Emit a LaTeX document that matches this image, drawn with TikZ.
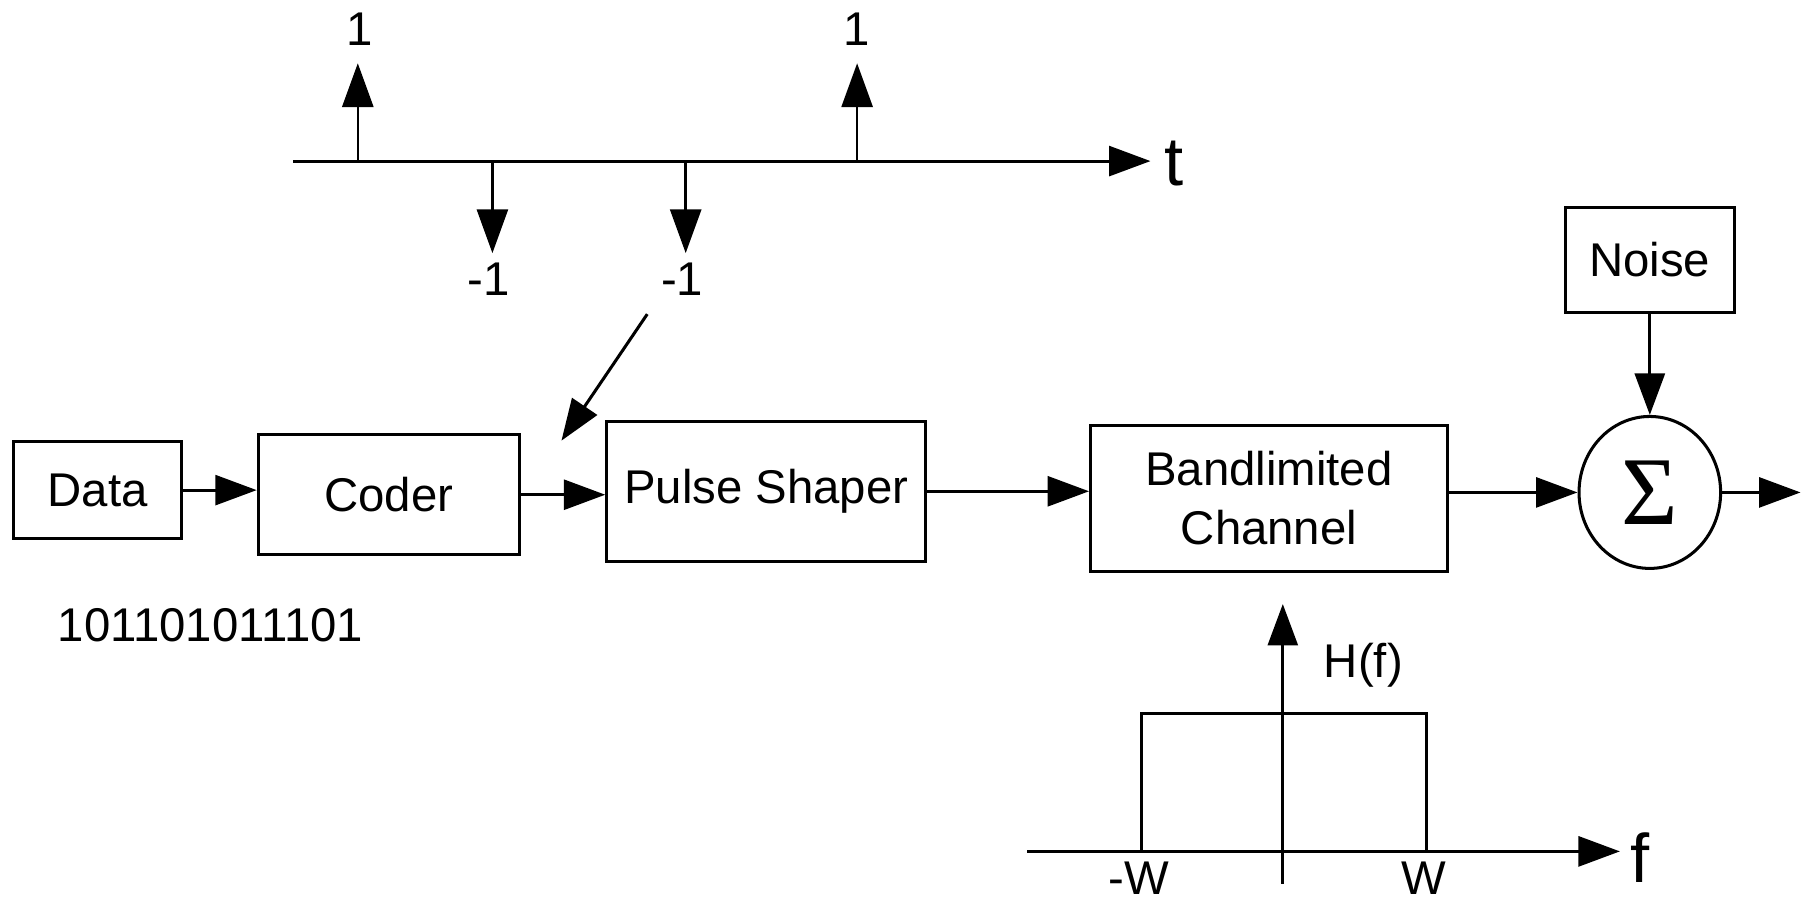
\documentclass[tikz,border=0pt]{standalone}
\usepackage{fontspec}
\setmainfont{Liberation Sans}
\newfontfamily\sigmafont{Liberation Serif}
\usetikzlibrary{arrows.meta, positioning, shapes.geometric}

\begin{document}
\begin{tikzpicture}[x=0.01cm, y=-0.01cm,
    box/.style={draw, line width=0.75pt, inner sep=0pt, align=center,
                font=\fontsize{11.7}{14.5}\selectfont},
    lbl/.style={inner sep=1pt, font=\fontsize{11.7}{14}\selectfont},
    big/.style={inner sep=1pt, font=\fontsize{17}{20}\selectfont},
    arrow/.style={-{Triangle[length=0.36cm, width=0.26cm]}, line width=0.75pt},
    stem/.style={-{Triangle[length=0.38cm, width=0.27cm]}, line width=0.6pt},
]
\useasboundingbox (0,0) rectangle (1568,787);

% ===== pulse train =====
\coordinate (t0) at (255,140);
\coordinate (t1) at (1000,140);
\draw[arrow] (t0) -- (t1);
\node[big, anchor=west] (tlab) at (1008,142) {t};
\foreach \x/\y/\n in {311/55/a, 745/55/b, 428/220/c, 596/220/d} {
  \coordinate (base\n) at (\x,140);
  \coordinate (tip\n) at (\x,\y);
  \draw[stem] (base\n) -- (tip\n);
}
\node[lbl] (vala) at (313,25) {1};
\node[lbl] (valb) at (745,25) {1};
\node[lbl] (valc) at (425,243) {-1};
\node[lbl] (vald) at (593,243) {-1};

% ===== signal chain =====
\node[box, minimum width=1.46cm, minimum height=0.84cm] (data) at (85,426) {Data};
\node[box, minimum width=2.27cm, minimum height=1.04cm] (coder) at (338,430) {Coder};
\node[box, minimum width=2.77cm, minimum height=1.22cm] (shaper) at (666,427) {Pulse Shaper};
\node[box, minimum width=3.10cm, minimum height=1.27cm] (channel) at (1103,433) {Bandlimited\\Channel};
\node[box, minimum width=1.47cm, minimum height=0.92cm] (noise) at (1434,226) {Noise};
\node[draw, ellipse, line width=0.75pt, minimum width=1.23cm, minimum height=1.32cm,
      inner sep=0pt, font=\sigmafont\fontsize{24}{28}\selectfont] (sum) at (1434,428) {Σ};
\coordinate (out) at (1565,428);
\coordinate (tap) at (488,383);

\node[lbl] (bits) at (183,543) {101101011101};

\draw[arrow] (data.east) -- (coder.west |- data.east);
\draw[arrow] (coder.east) -- (shaper.west |- coder.east);
\draw[arrow] (shaper.east) -- (channel.west |- shaper.east);
\draw[arrow] (channel.east |- sum.west) -- (sum.west);
\draw[arrow] (noise.south) -- (sum.north);
\draw[arrow] (sum.east) -- (out);
\draw[arrow, shorten <=4pt] (vald.south west) -- (tap);

% ===== channel response =====
\coordinate (f0) at (893,740);
\coordinate (f1) at (1408,740);
\coordinate (h0) at (1115,768);
\coordinate (h1) at (1115,525);
\draw[arrow] (f0) -- (f1);
\draw[arrow] (h0) -- (h1);
\draw[line width=0.75pt] (992,740) -- (992,620) -- (1240,620) -- (1240,740);
\node[big, anchor=west] (flab) at (1413,745) {f};
\node[lbl] (hlab) at (1185,578) {H(f)};
\node[lbl] (wneg) at (990,763) {-W};
\node[lbl] (wpos) at (1238,763) {W};
\end{tikzpicture}
\end{document}
